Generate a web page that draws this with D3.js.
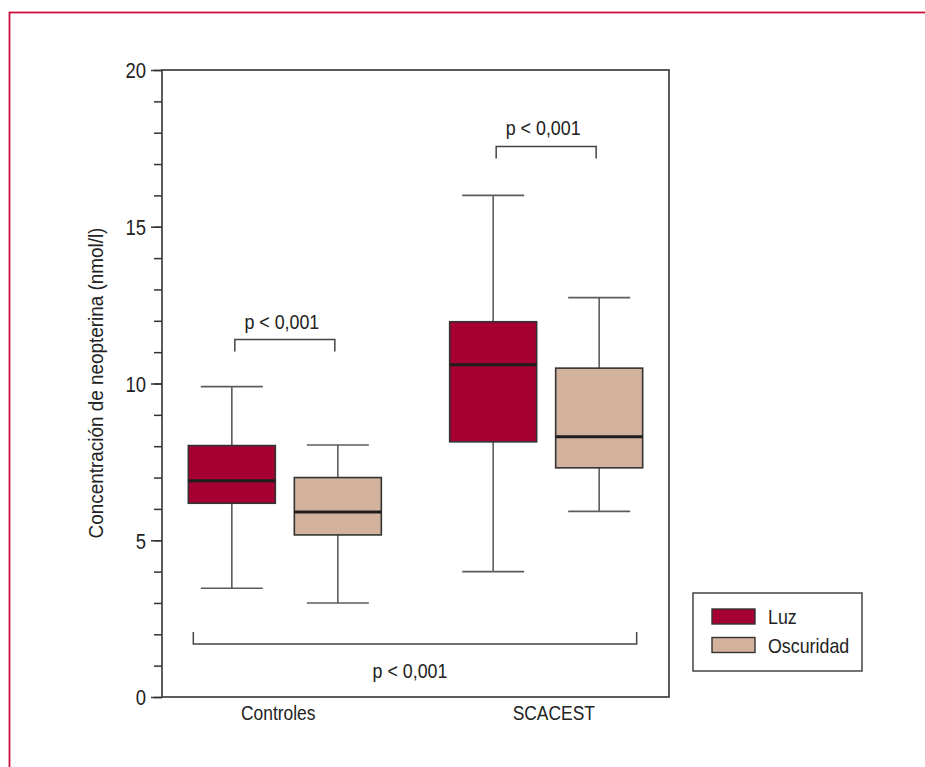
<!DOCTYPE html>
<html lang="es">
<head>
	<meta charset="utf-8">
	<title>Neopterina</title>
	<script src="https://d3js.org/d3.v7.min.js"></script>
	<style>
	body { margin: 0; background: #fff; }
	svg text {
	  font-family: "Liberation Sans", Arial, sans-serif;
	  fill: #222;
	}
	.whisker { stroke: #5c5c5c; stroke-width: 1.6px; }
	.box { stroke: #333; stroke-width: 1.6px; }
	.median { stroke: #1e1e1e; stroke-width: 3px; }
	.bracket { fill: none; stroke: #444; stroke-width: 1.5px; }
	</style>
</head>
<body>
	<script>
		// data
		var groups = ["Controles", "SCACEST"];
		var series = ["Luz", "Oscuridad"];
		var colors = ["#a50031", "#d2b19d"];
		// [min, q1, median, q3, max] per group, per series
		var luzStats = [[3.47, 6.18, 6.9, 8.02, 9.9], [4.0, 8.14, 10.6, 11.97, 16.0]];
		var oscStats = [[3.0, 5.17, 5.9, 7.0, 8.04], [5.92, 7.31, 8.3, 10.49, 12.74]];
		var yTicksMajor = [0, 5, 10, 15, 20];
		var pLabel = "p < 0,001";
		// brackets: [group, yValue]
		var groupBrackets = [["Controles", 11.4], ["SCACEST", 17.56]];
		var overallBracketY = 1.69;

		var w = 925, h = 767;

		var svg = d3.select("body")
					.append("svg")
					.attr("width", w)
					.attr("height", h);

		// no narrow font installed: squeeze text horizontally around its anchor
		function condense(sel, k) {
			sel.each(function() {
				var t = d3.select(this);
				var x = +t.attr("x") || 0;
				var tr = t.attr("transform") || "";
				t.attr("transform", tr + " translate(" + x + ",0) scale(" + k + ",1) translate(" + (-x) + ",0)");
			});
		}

		// page frame (cropped at right/bottom)
		svg.append("rect")
			.attr("x", 9.5).attr("y", 12.5)
			.attr("width", w + 20).attr("height", h + 20)
			.attr("fill", "none")
			.attr("stroke", "#c8103c")
			.attr("stroke-width", 1.8);

		var plot = {left: 162, right: 669, top: 70, bottom: 697};

		var y = d3.scaleLinear()
				  .domain([0, 20])
				  .range([plot.bottom, plot.top]);

		var x0 = d3.scalePoint()
				   .domain(groups)
				   .range([plot.left, plot.right])
				   .padding(0.47);

		var x1 = d3.scalePoint()
				   .domain(series)
				   .range([-53, 53]);

		var xLabel = d3.scalePoint()
				   .domain(groups)
				   .range([plot.left, plot.right])
				   .padding(0.42);

		var boxW = 87, capW = 62;

		// minor ticks
		svg.append("g")
			.attr("transform", "translate(" + plot.left + ",0)")
			.call(d3.axisLeft(y).tickValues(d3.range(0, 21)).tickSize(8).tickFormat(""))
			.call(function(g) { g.select(".domain").remove(); })
			.selectAll("line").attr("stroke", "#333").attr("stroke-width", 1.5);

		// major ticks
		var yAxis = svg.append("g")
			.attr("transform", "translate(" + plot.left + ",0)")
			.call(d3.axisLeft(y).tickValues(yTicksMajor).tickSize(11).tickPadding(5));
		yAxis.select(".domain").remove();
		yAxis.selectAll("line").attr("stroke", "#333").attr("stroke-width", 1.5);
		yAxis.selectAll("text").style("font-size", "22px").attr("dy", "0.36em").call(condense, 0.84);

		// frame of the plot
		svg.append("rect")
			.attr("x", plot.left).attr("y", plot.top)
			.attr("width", plot.right - plot.left)
			.attr("height", plot.bottom - plot.top)
			.attr("fill", "none")
			.attr("stroke", "#333")
			.attr("stroke-width", 1.6);

		// x labels
		var xAxis = svg.append("g")
			.attr("transform", "translate(0," + plot.bottom + ")")
			.call(d3.axisBottom(xLabel).tickSize(0).tickPadding(8));
		xAxis.select(".domain").remove();
		xAxis.selectAll("text").style("font-size", "21px").call(condense, 0.83);

		// y title
		svg.append("text")
			.attr("transform", "translate(103,383) rotate(-90)")
			.attr("text-anchor", "middle")
			.style("font-size", "21px")
			.text("Concentración de neopterina (nmol/l)")
			.call(condense, 0.9);

		// boxes
		var boxes = [];
		groups.forEach(function(g, i) {
			boxes.push({group: g, serie: series[0], color: colors[0], s: luzStats[i]});
			boxes.push({group: g, serie: series[1], color: colors[1], s: oscStats[i]});
		});

		var bx = svg.append("g").selectAll("g")
			.data(boxes)
			.enter().append("g")
			.attr("transform", function(d) { return "translate(" + (x0(d.group) + x1(d.serie)) + ",0)"; });

		bx.append("line").attr("class", "whisker")
			.attr("x1", 0).attr("x2", 0)
			.attr("y1", function(d) { return y(d.s[0]); })
			.attr("y2", function(d) { return y(d.s[4]); });
		bx.append("line").attr("class", "whisker")
			.attr("x1", -capW / 2).attr("x2", capW / 2)
			.attr("y1", function(d) { return y(d.s[0]); })
			.attr("y2", function(d) { return y(d.s[0]); });
		bx.append("line").attr("class", "whisker")
			.attr("x1", -capW / 2).attr("x2", capW / 2)
			.attr("y1", function(d) { return y(d.s[4]); })
			.attr("y2", function(d) { return y(d.s[4]); });
		bx.append("rect").attr("class", "box")
			.attr("x", -boxW / 2).attr("width", boxW)
			.attr("y", function(d) { return y(d.s[3]); })
			.attr("height", function(d) { return y(d.s[1]) - y(d.s[3]); })
			.attr("fill", function(d) { return d.color; });
		bx.append("line").attr("class", "median")
			.attr("x1", -boxW / 2).attr("x2", boxW / 2)
			.attr("y1", function(d) { return y(d.s[2]); })
			.attr("y2", function(d) { return y(d.s[2]); });

		// within-group brackets
		groupBrackets.forEach(function(b) {
			var xa = x0(b[0]) + x1(series[0]) + 3,
				xb = x0(b[0]) + x1(series[1]) - 3,
				yy = y(b[1]);
			svg.append("path").attr("class", "bracket")
				.attr("d", "M" + xa + "," + (yy + 12) + "V" + yy + "H" + xb + "V" + (yy + 12));
			svg.append("text")
				.attr("x", (xa + xb) / 2 - 3).attr("y", yy - 11)
				.attr("text-anchor", "middle")
				.style("font-size", "21px")
				.text(pLabel)
				.call(condense, 0.85);
		});

		// overall bracket
		var oa = x0(groups[0]) + x1(series[0]) - boxW / 2 + 5,
			ob = x0(groups[1]) + x1(series[1]) + boxW / 2 - 6,
			oy = y(overallBracketY);
		svg.append("path").attr("class", "bracket")
			.attr("d", "M" + oa + "," + (oy - 12) + "V" + oy + "H" + ob + "V" + (oy - 12));
		svg.append("text")
			.attr("x", (oa + ob) / 2 - 5).attr("y", oy + 34)
			.attr("text-anchor", "middle")
			.style("font-size", "21px")
			.text(pLabel)
			.call(condense, 0.85);

		// legend
		var lg = svg.append("g").attr("transform", "translate(693,593)");
		lg.append("rect")
			.attr("width", 169).attr("height", 78)
			.attr("fill", "#fff").attr("stroke", "#444").attr("stroke-width", 1.5);
		var li = lg.selectAll("g.item")
			.data(series)
			.enter().append("g")
			.attr("class", "item")
			.attr("transform", function(d, i) { return "translate(19," + (16 + i * 28.5) + ")"; });
		li.append("rect")
			.attr("width", 43).attr("height", 15)
			.attr("fill", function(d, i) { return colors[i]; })
			.attr("stroke", "#333").attr("stroke-width", 1.4);
		li.append("text")
			.attr("x", 56).attr("y", 15)
			.style("font-size", "21px")
			.text(function(d) { return d; })
			.call(condense, 0.85);
	</script>
</body>
</html>
